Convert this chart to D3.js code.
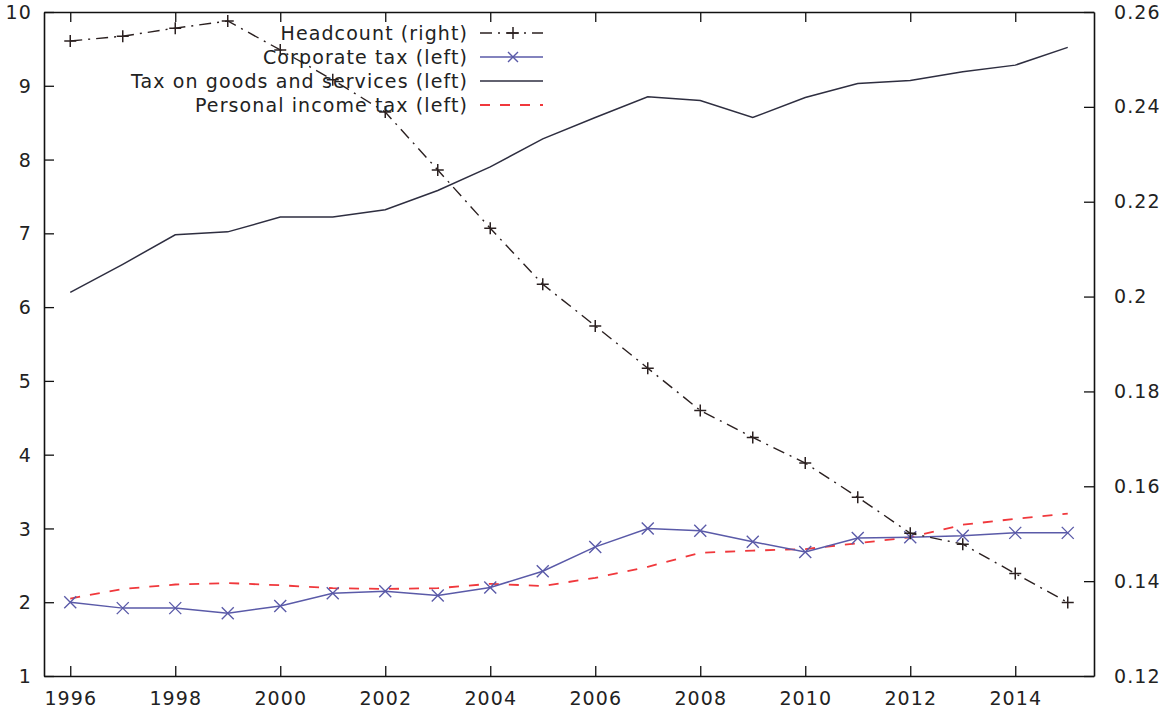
<!DOCTYPE html>
<html>
<head>
<meta charset="utf-8">
<script src="https://cdnjs.cloudflare.com/ajax/libs/d3/7.8.5/d3.min.js"></script>
<style>
  body { margin: 0; background: #fff; }
  svg text { font-family: "DejaVu Sans", Verdana, sans-serif; font-size: 19px; letter-spacing: 1.1px; fill: #222; }
</style>
</head>
<body>
<div id="chart-area"></div>
<script>
// data
var years = d3.range(1996, 2016);
var goodsTax = [6.2, 6.58, 6.98, 7.02, 7.22, 7.22, 7.32, 7.58, 7.9, 8.28,
                8.57, 8.85, 8.8, 8.57, 8.84, 9.03, 9.07, 9.19, 9.28, 9.52];
var corpTax = [2.0, 1.92, 1.92, 1.85, 1.95, 2.12, 2.15, 2.09, 2.2, 2.42,
               2.75, 3.0, 2.97, 2.82, 2.68, 2.87, 2.88, 2.9, 2.94, 2.94];
var personalTax = [2.05, 2.18, 2.24, 2.26, 2.23, 2.19, 2.18, 2.19, 2.25, 2.22,
                   2.33, 2.48, 2.67, 2.7, 2.72, 2.8, 2.88, 3.05, 3.13, 3.2];
var headcount = [0.2539, 0.2549, 0.2566, 0.2581, 0.252, 0.2457, 0.2389, 0.2267, 0.2144, 0.2026,
                 0.1938, 0.1849, 0.176, 0.1703, 0.1649, 0.1577, 0.1501, 0.1478, 0.1416, 0.1355];
var xTicks = [1996, 1998, 2000, 2002, 2004, 2006, 2008, 2010, 2012, 2014];
var leftTicks = [1, 2, 3, 4, 5, 6, 7, 8, 9, 10];
var rightTicks = [0.12, 0.14, 0.16, 0.18, 0.2, 0.22, 0.24, 0.26];

//Margins
var margin = { left: 44, right: 73, top: 12, bottom: 41 },
    width = 1167 - margin.left - margin.right,
    height = 717 - margin.top - margin.bottom;

var svg = d3.select("#chart-area").append("svg")
    .attr("width", 1167)
    .attr("height", 717);
var g = svg.append("g")
    .attr("transform", "translate(" + margin.left + "," + margin.top + ")");

//scales
var x = d3.scaleLinear().domain([1995.5, 2015.5]).range([0, width]);
var yL = d3.scaleLinear().domain([1, 10]).range([height, 0]);
var yR = d3.scaleLinear().domain([0.12, 0.26]).range([height, 0]);

//axes (gnuplot style: ticks pointing inwards)
var axisColor = "#111";
var xAxis = g.append("g").attr("transform", "translate(0," + height + ")")
    .call(d3.axisBottom(x).tickValues(xTicks).tickFormat(d3.format("d"))
        .tickSizeInner(-10).tickSizeOuter(0).tickPadding(16));
var xTop = g.append("g")
    .call(d3.axisTop(x).tickValues(xTicks).tickFormat("")
        .tickSizeInner(-10).tickSizeOuter(0));
var yAxisL = g.append("g")
    .call(d3.axisLeft(yL).tickValues(leftTicks).tickFormat(d3.format("d"))
        .tickSizeInner(-10).tickSizeOuter(0).tickPadding(12));
var yAxisR = g.append("g").attr("transform", "translate(" + width + ",0)")
    .call(d3.axisRight(yR).tickValues(rightTicks).tickFormat(function(d){ return String(+d.toFixed(2)); })
        .tickSizeInner(-10).tickSizeOuter(0).tickPadding(20));
g.selectAll(".domain").attr("stroke", axisColor).attr("stroke-width", 1.6);
g.selectAll(".tick line").attr("stroke", axisColor).attr("stroke-width", 1.3);
g.selectAll(".tick text").style("font-size", "19px");
yAxisL.selectAll(".tick text").attr("dy", "0.35em");
yAxisR.selectAll(".tick text").attr("text-anchor", "start");

var clr = { head: "#2b2020", corp: "#5a5aa8", goods: "#2e2e40", pers: "#f0383c" };

var lineL = function(vals){
    return d3.line().x(function(d, i){ return x(years[i]); }).y(function(d){ return yL(d); })(vals);
};

// tax on goods and services
g.append("path").attr("d", lineL(goodsTax))
    .attr("fill", "none").attr("stroke", clr.goods).attr("stroke-width", 1.5);

// personal income tax
g.append("path").attr("d", lineL(personalTax))
    .attr("fill", "none").attr("stroke", clr.pers).attr("stroke-width", 1.8)
    .attr("stroke-dasharray", "10,10");

// corporate tax
g.append("path").attr("d", lineL(corpTax))
    .attr("fill", "none").attr("stroke", clr.corp).attr("stroke-width", 1.5);
function xMark(sel, cx, cy, s, col){
    sel.append("path")
        .attr("d", "M" + (cx - s) + "," + (cy - s) + "L" + (cx + s) + "," + (cy + s) +
                   "M" + (cx - s) + "," + (cy + s) + "L" + (cx + s) + "," + (cy - s))
        .attr("stroke", col).attr("stroke-width", 1.4);
}
corpTax.forEach(function(d, i){ xMark(g, x(years[i]), yL(d), 6, clr.corp); });

// headcount (right axis)
var lineR = d3.line().x(function(d, i){ return x(years[i]); }).y(function(d){ return yR(d); });
g.append("path").attr("d", lineR(headcount))
    .attr("fill", "none").attr("stroke", clr.head).attr("stroke-width", 1.4)
    .attr("stroke-dasharray", "12,6,2,6");
function plusMark(sel, cx, cy, s, col){
    sel.append("path")
        .attr("d", "M" + (cx - s) + "," + cy + "L" + (cx + s) + "," + cy +
                   "M" + cx + "," + (cy - s) + "L" + cx + "," + (cy + s))
        .attr("stroke", col).attr("stroke-width", 1.5);
}
headcount.forEach(function(d, i){ plusMark(g, x(years[i]), yR(d), 6, clr.head); });

//Legend
var legendItems = [
    { label: "Headcount (right)", key: "head" },
    { label: "Corporate tax (left)", key: "corp" },
    { label: "Tax on goods and services (left)", key: "goods" },
    { label: "Personal income tax (left)", key: "pers" }
];
var legend = svg.append("g").attr("transform", "translate(468,33)");
legendItems.forEach(function(d, i){
    var row = legend.append("g").attr("transform", "translate(0," + (i * 24) + ")");
    row.append("text").attr("x", 0).attr("y", 0).attr("dy", "0.35em")
        .attr("text-anchor", "end").text(d.label);
    var ln = row.append("line").attr("x1", 12).attr("x2", 75).attr("y1", 0).attr("y2", 0)
        .attr("stroke", clr[d.key]).attr("stroke-width", 1.5);
    if (d.key === "head") { ln.attr("stroke-dasharray", "12,6,2,6"); plusMark(row, 45, 0, 6, clr.head); }
    if (d.key === "corp") { xMark(row, 45, 0, 5, clr.corp); }
    if (d.key === "pers") { ln.attr("stroke-dasharray", "10,10").attr("stroke-width", 1.8); }
});
</script>
</body>
</html>
